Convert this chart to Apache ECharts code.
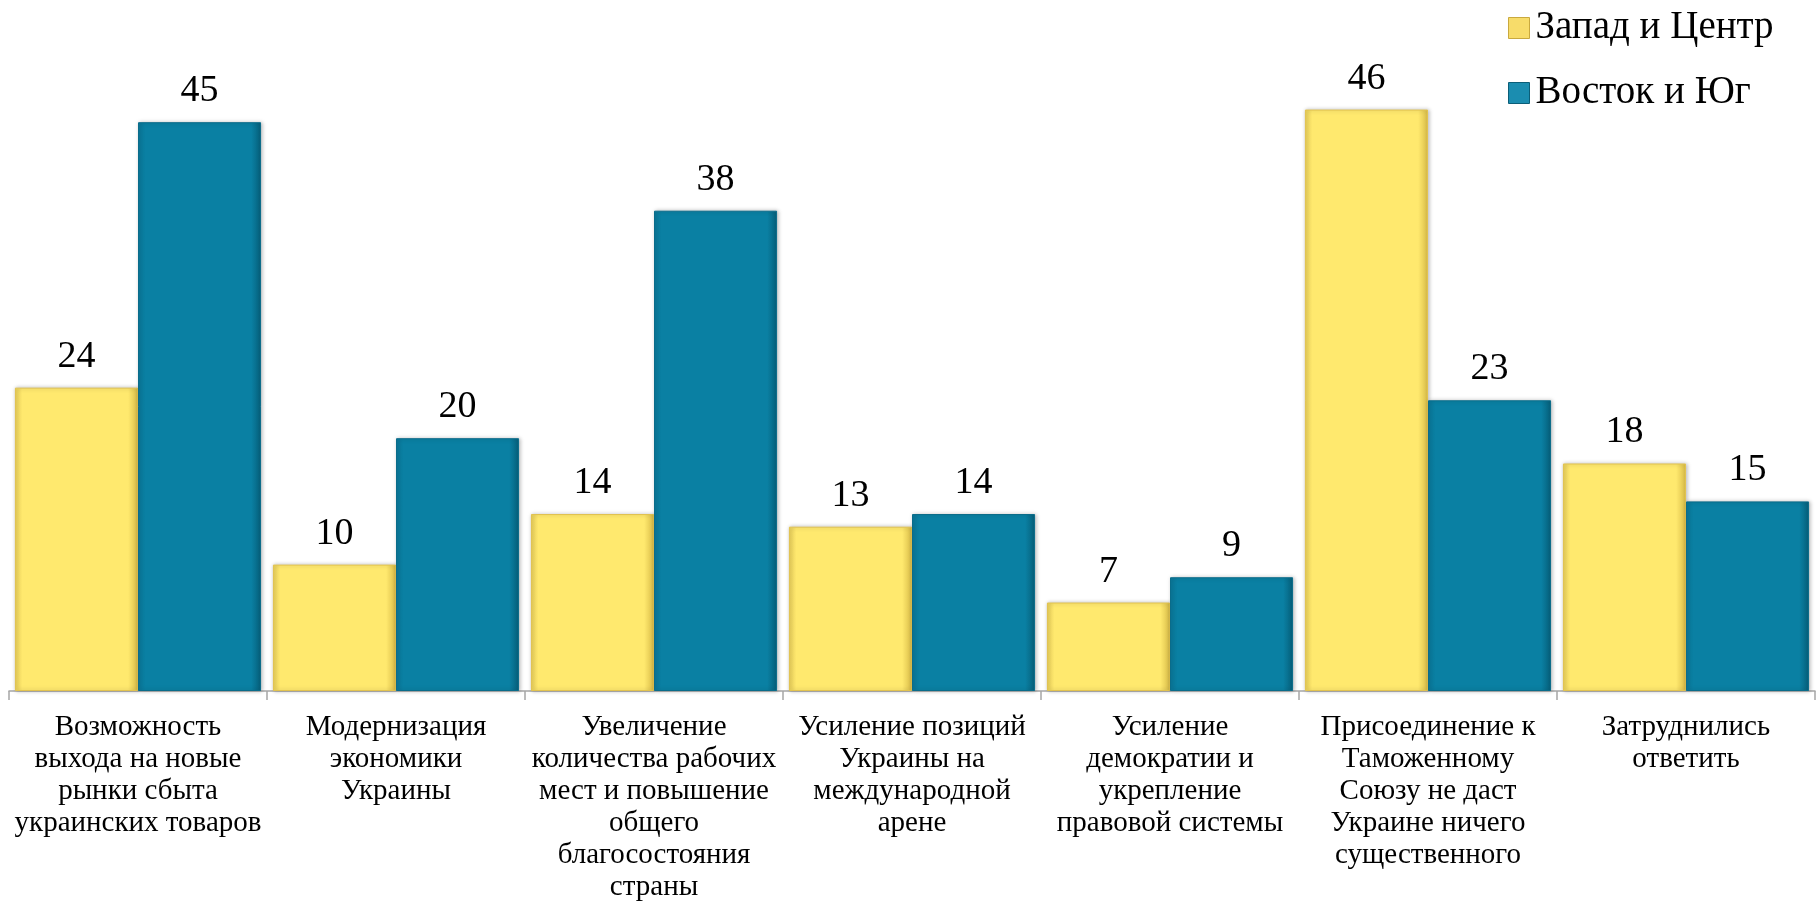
<!DOCTYPE html>
<html>
<head>
<meta charset="utf-8">
<script src="https://cdn.jsdelivr.net/npm/echarts@6/dist/echarts.min.js"></script>
<style>
  html, body { margin: 0; padding: 0; background: #fff; }
  #chart { width: 1820px; height: 903px; }
</style>
</head>
<body>
<div id="chart"></div>
<script>
const categories = [
  'Возможность\nвыхода на новые\nрынки сбыта\nукраинских товаров',
  'Модернизация\nэкономики\nУкраины',
  'Увеличение\nколичества рабочих\nмест и повышение\nобщего\nблагосостояния\nстраны',
  'Усиление позиций\nУкраины на\nмеждународной\nарене',
  'Усиление\nдемократии и\nукрепление\nправовой системы',
  'Присоединение к\nТаможенному\nСоюзу не даст\nУкраине ничего\nсущественного',
  'Затруднились\nответить'
]
const westCenter = [24, 10, 14, 13, 7, 46, 18]
const eastSouth = [45, 20, 38, 14, 9, 23, 15]

const font = 'Liberation Serif'

const chart = echarts.init(document.getElementById('chart'))

function grad (edge, main, dark) {
  return new echarts.graphic.LinearGradient(0, 0, 1, 0, [
    { offset: 0, color: edge },
    { offset: 0.06, color: main },
    { offset: 0.92, color: main },
    { offset: 1, color: dark }
  ])
}

chart.setOption({
  animation: false,
  textStyle: { fontFamily: font },
  grid: { left: 9, right: 5, top: 59, bottom: 211 },
  legend: {
    orient: 'vertical',
    left: 1503,
    top: 3,
    itemWidth: 21,
    itemHeight: 21,
    itemGap: 25,
    icon: 'rect',
    textStyle: { fontFamily: font, fontSize: 39, color: '#000', lineHeight: 40, padding: [0, 0, 0, 1] },
    data: [
      { name: 'Запад и Центр', itemStyle: { color: '#F7DC6A', borderColor: '#C9A93E', borderWidth: 1 } },
      { name: 'Восток и Юг', itemStyle: { color: '#1B8DB0', borderColor: '#0B5E78', borderWidth: 1 } }
    ]
  },
  xAxis: {
    type: 'category',
    data: categories,
    axisLine: { lineStyle: { color: '#A6A6A6', width: 1.5 } },
    axisTick: { show: true, length: 9, lineStyle: { color: '#A6A6A6', width: 1.5 } },
    axisLabel: {
      interval: 0,
      margin: 20,
      fontFamily: font,
      fontSize: 29,
      lineHeight: 32,
      color: '#000',
      verticalAlign: 'top'
    }
  },
  yAxis: {
    type: 'value',
    min: 0,
    max: 50,
    show: false,
    splitLine: { show: false }
  },
  series: [
    {
      name: 'Запад и Центр',
      type: 'bar',
      data: westCenter,
      barGap: '0%',
      barCategoryGap: '4.6%',
      itemStyle: {
        color: grad('#E9CF5A', '#FFE96E', '#D9BC48'),
        borderColor: '#E2C34F',
        borderWidth: 1,
        shadowColor: 'rgba(0,0,0,0.25)',
        shadowBlur: 4,
        shadowOffsetX: 1
      },
      label: {
        show: true,
        position: 'top',
        distance: 12,
        fontFamily: font,
        fontSize: 38,
        color: '#000'
      }
    },
    {
      name: 'Восток и Юг',
      type: 'bar',
      data: eastSouth,
      itemStyle: {
        color: grad('#0A7799', '#0A80A3', '#065F7A'),
        borderColor: '#0A6C8A',
        borderWidth: 1,
        shadowColor: 'rgba(0,0,0,0.25)',
        shadowBlur: 4,
        shadowOffsetX: 1
      },
      label: {
        show: true,
        position: 'top',
        distance: 12,
        fontFamily: font,
        fontSize: 38,
        color: '#000'
      }
    }
  ]
})
</script>
</body>
</html>
